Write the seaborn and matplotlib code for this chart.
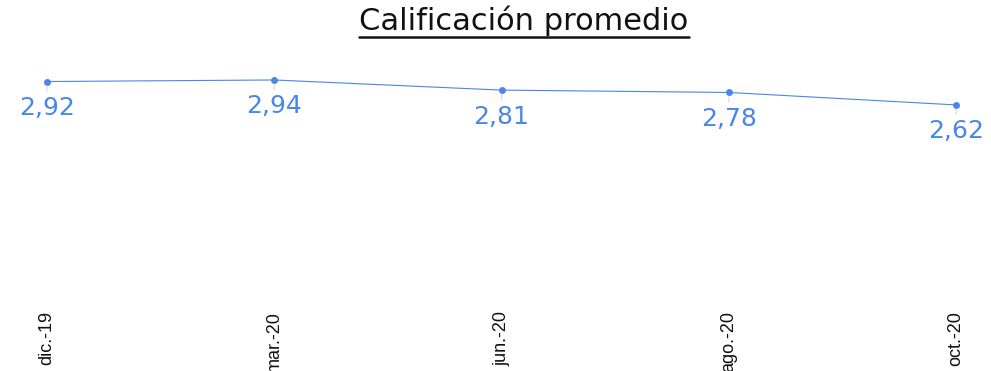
import matplotlib
matplotlib.use("Agg")
import matplotlib.pyplot as plt
import seaborn as sns
import pandas as pd
from matplotlib.lines import Line2D

# Datos
periodos = ["dic.-19", "mar.-20", "jun.-20", "ago.-20", "oct.-20"]
calificacion = [2.92, 2.94, 2.81, 2.78, 2.62]

azul = "#4a86e8"

sns.set_style("white")
plt.rcParams["font.family"] = ["DejaVu Sans"]

df = pd.DataFrame({"periodo": periodos, "calificacion": calificacion})

fig = plt.figure(figsize=(9.91, 3.71), dpi=100)
ax = fig.add_axes([0.0199, 0.1663, 0.9724, 0.6728])

sns.lineplot(data=df, x="periodo", y="calificacion", ax=ax, color=azul,
             linewidth=0.8, marker="o", markersize=5, markeredgewidth=0,
             sort=False)

# Etiquetas de datos debajo de cada punto
for i, v in enumerate(calificacion):
    ax.annotate(f"{v:.2f}".replace(".", ","), xy=(i, v), xytext=(0, -19),
                textcoords="offset points", ha="center", va="center",
                fontsize=18, color=azul,
                arrowprops=dict(arrowstyle="-", color="#d9d9d9", lw=0.8,
                                shrinkA=1, shrinkB=3, relpos=(0.5, 1)))

ax.set_xlim(-0.12, 4.12)
ax.set_ylim(0, 3.2)
ax.set_xlabel("")
ax.set_ylabel("")
ax.set_yticks([])
ax.tick_params(axis="x", length=0, pad=1)
for lbl in ax.get_xticklabels():
    lbl.set_rotation(90)
    lbl.set_fontsize(13)
    lbl.set_family(["Liberation Sans", "DejaVu Sans"])
    lbl.set_color("#111111")
    lbl.set_va("top")
for s in ax.spines.values():
    s.set_visible(False)

# Título subrayado
titulo = fig.text(524 / 991, 1 - 30 / 371, "Calificación promedio", ha="center",
                  va="baseline", fontsize=22, family=["DejaVu Sans"],
                  color="#111111")
fig.canvas.draw()
bb = titulo.get_window_extent().transformed(fig.transFigure.inverted())
y_sub = 1 - 37 / 371
fig.add_artist(Line2D([bb.x0, bb.x1], [y_sub, y_sub], color="#111111",
                      linewidth=1.8, transform=fig.transFigure))

fig.savefig("out.png", dpi=100)
